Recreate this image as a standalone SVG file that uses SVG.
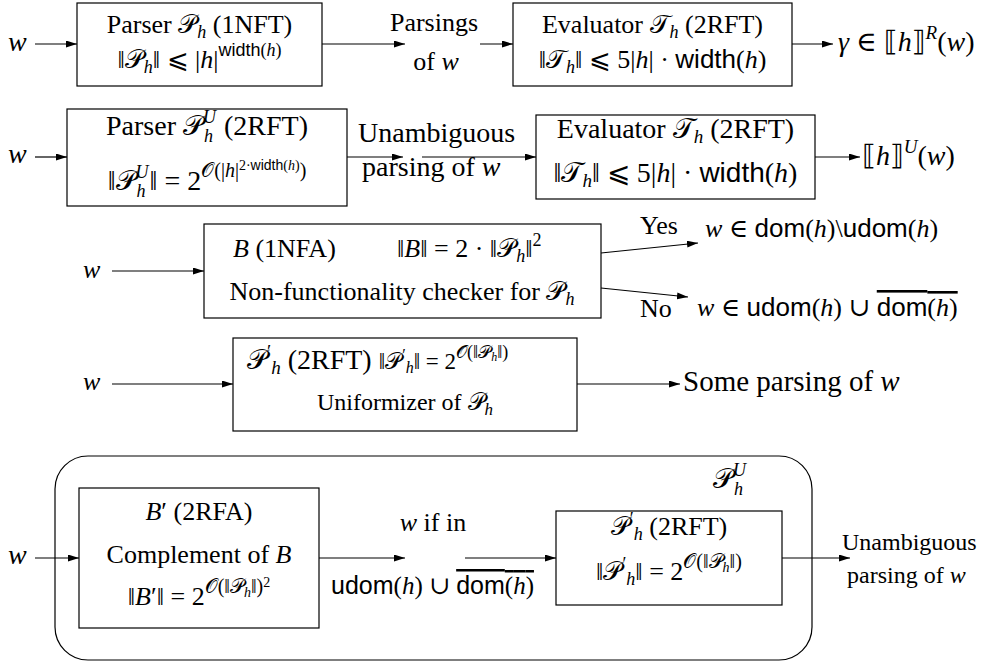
<svg xmlns="http://www.w3.org/2000/svg" width="984" height="666" viewBox="0 0 984 666">
<style>
text{font-family:"Liberation Serif","DejaVu Serif",serif;font-size:26px;fill:#000}
.f28{font-size:28px}
.f24{font-size:24px}
.f25{font-size:25px}
.f29{font-size:29px}
.i{font-style:italic}
.c{font-family:"DejaVu Sans","Noto Sans",sans-serif;font-style:normal}
.sf{font-family:"Liberation Sans","DejaVu Sans",sans-serif;font-style:normal}
.box{fill:#fff;stroke:#000;stroke-width:1.2}
.e{stroke:#000;stroke-width:1.2;fill:none;marker-end:url(#a)}
</style>
<defs><marker id="a" markerUnits="userSpaceOnUse" markerWidth="12" markerHeight="8" refX="11" refY="3.5" orient="auto"><path d="M0,0 L11,3.5 L0,7 Z" fill="#000"/></marker></defs>

<g id="uniform-container">
<rect x="55" y="456" width="757" height="204" rx="33" ry="33" fill="none" stroke="#000" stroke-width="1.2"/>
<text x="713" y="488" class="f28"><tspan class="c">𝒫</tspan><tspan class="i" font-size="18" dy="-12">U</tspan><tspan class="i" font-size="18" dx="-12" dy="19">h</tspan></text>
</g>

<g id="connectors">
<line class="e" x1="35" y1="44" x2="77" y2="44"/>
<line class="e" x1="322" y1="44" x2="405" y2="44"/>
<line class="e" x1="480" y1="44" x2="513" y2="44"/>
<line class="e" x1="792" y1="44" x2="833" y2="44"/>
<line class="e" x1="35" y1="157" x2="67" y2="157"/>
<line class="e" x1="347" y1="157" x2="403" y2="157"/>
<line class="e" x1="422" y1="157" x2="536" y2="157"/>
<line class="e" x1="815" y1="157" x2="860" y2="157"/>
<line class="e" x1="112" y1="271" x2="204" y2="271"/>
<line class="e" x1="601" y1="253" x2="698" y2="243"/>
<line class="e" x1="601" y1="288" x2="688" y2="297"/>
<line class="e" x1="112" y1="384" x2="233" y2="384"/>
<line class="e" x1="577" y1="384" x2="680" y2="384"/>
<line class="e" x1="35" y1="558" x2="79" y2="558"/>
<line class="e" x1="319" y1="558" x2="405" y2="558"/>
<line class="e" x1="465" y1="558" x2="556" y2="558"/>
<line class="e" x1="782" y1="558" x2="850" y2="558"/>
</g>

<!-- Row 1 -->
<g id="w1"><text x="8" y="51" class="i f28">w</text></g>
<g id="parser1">
<rect class="box" x="77" y="3" width="245" height="83"/>
<text x="199.5" y="33" text-anchor="middle">Parser <tspan class="c">𝒫</tspan><tspan class="i" font-size="18" dy="5">h</tspan><tspan dy="-5"> (1NFT)</tspan></text>
<text x="199.5" y="68" text-anchor="middle">‖<tspan class="c">𝒫</tspan><tspan class="i" font-size="18" dy="5">h</tspan><tspan dy="-5">‖ ⩽ |</tspan><tspan class="i">h</tspan>|<tspan class="sf" font-size="18" dy="-12">width</tspan><tspan font-size="18">(</tspan><tspan class="i" font-size="18">h</tspan><tspan font-size="18">)</tspan></text>
</g>
<g id="parsings1">
<text x="434" y="31" text-anchor="middle">Parsings</text>
<text x="436" y="70" text-anchor="middle">of <tspan class="i">w</tspan></text>
</g>
<g id="evaluator1">
<rect class="box" x="513" y="3" width="279" height="83"/>
<text x="652.5" y="33" text-anchor="middle">Evaluator <tspan class="c">𝒯</tspan><tspan class="i" font-size="18" dy="5">h</tspan><tspan dy="-5"> (2RFT)</tspan></text>
<text x="652.5" y="68" text-anchor="middle">‖<tspan class="c">𝒯</tspan><tspan class="i" font-size="18" dy="5">h</tspan><tspan dy="-5">‖ ⩽ 5|</tspan><tspan class="i">h</tspan>| · <tspan class="sf">width</tspan>(<tspan class="i">h</tspan>)</text>
</g>
<g id="out1"><text x="838" y="51" class="f28"><tspan class="i">γ</tspan> ∈ <tspan class="c">⟦</tspan><tspan class="i">h</tspan><tspan class="c">⟧</tspan><tspan class="i" font-size="19" dy="-12">R</tspan><tspan dy="12">(</tspan><tspan class="i">w</tspan>)</text></g>

<!-- Row 2 -->
<g id="w2"><text x="8" y="163" class="i f28">w</text></g>
<g id="parser2">
<rect class="box" x="67" y="109" width="280" height="97"/>
<text x="207" y="135" text-anchor="middle" class="f28">Parser <tspan class="c">𝒫</tspan><tspan class="i" font-size="18" dy="-12">U</tspan><tspan class="i" font-size="18" dx="-12" dy="19">h</tspan><tspan dx="4" dy="-7"> (2RFT)</tspan></text>
<text x="207" y="190" text-anchor="middle" class="f28">‖<tspan class="c">𝒫</tspan><tspan class="i" font-size="18" dy="-12">U</tspan><tspan class="i" font-size="18" dx="-12" dy="19">h</tspan><tspan dx="4" dy="-7">‖ = 2</tspan><tspan class="c" font-size="20" dy="-13">𝒪</tspan><tspan font-size="20">(|</tspan><tspan class="i" font-size="20">h</tspan><tspan font-size="20">|</tspan><tspan font-size="14" dy="-7">2·</tspan><tspan class="sf" font-size="14">width</tspan><tspan font-size="14">(</tspan><tspan class="i" font-size="14">h</tspan><tspan font-size="14">)</tspan><tspan font-size="20" dy="7">)</tspan></text>
</g>
<g id="unamb2">
<text x="358" y="142" class="f28">Unambiguous</text>
<text x="362" y="176" class="f28">parsing of <tspan class="i">w</tspan></text>
</g>
<g id="evaluator2">
<rect class="box" x="536" y="115" width="279" height="84"/>
<text x="675.5" y="138" text-anchor="middle" class="f28">Evaluator <tspan class="c">𝒯</tspan><tspan class="i" font-size="19" dy="5">h</tspan><tspan dy="-5"> (2RFT)</tspan></text>
<text x="675.5" y="182" text-anchor="middle" class="f28">‖<tspan class="c">𝒯</tspan><tspan class="i" font-size="19" dy="5">h</tspan><tspan dy="-5">‖ ⩽ 5|</tspan><tspan class="i">h</tspan>| · <tspan class="sf">width</tspan>(<tspan class="i">h</tspan>)</text>
</g>
<g id="out2"><text x="862" y="165" class="f28"><tspan class="c">⟦</tspan><tspan class="i">h</tspan><tspan class="c">⟧</tspan><tspan class="i" font-size="19" dy="-12">U</tspan><tspan dy="12">(</tspan><tspan class="i">w</tspan>)</text></g>

<!-- Row 3 -->
<g id="w3"><text x="83" y="278" class="i">w</text></g>
<g id="checker">
<rect class="box" x="204" y="224" width="397" height="94"/>
<text x="233" y="257"><tspan class="i">B</tspan> (1NFA)</text>
<text x="397" y="257">‖<tspan class="i">B</tspan>‖ = 2 · ‖<tspan class="c">𝒫</tspan><tspan class="i" font-size="18" dy="5">h</tspan><tspan dy="-5">‖</tspan><tspan font-size="18" dy="-11">2</tspan></text>
<text x="402" y="300" text-anchor="middle">Non-functionality checker for <tspan class="c">𝒫</tspan><tspan class="i" font-size="18" dy="5">h</tspan></text>
</g>
<g id="yes">
<text x="640" y="234">Yes</text>
<text x="705" y="237"><tspan class="i">w</tspan> ∈ <tspan class="sf">dom</tspan>(<tspan class="i">h</tspan>)\<tspan class="sf">udom</tspan>(<tspan class="i">h</tspan>)</text>
</g>
<g id="no">
<text x="640" y="317">No</text>
<text x="697" y="316"><tspan class="i">w</tspan> ∈ <tspan class="sf">udom</tspan>(<tspan class="i">h</tspan>) ∪ <tspan class="sf" text-decoration="overline">dom</tspan><tspan text-decoration="overline">(</tspan><tspan class="i" text-decoration="overline">h</tspan><tspan text-decoration="overline">)</tspan></text>
</g>

<!-- Row 4 -->
<g id="w4"><text x="83" y="390" class="i">w</text></g>
<g id="uniformizer">
<rect class="box" x="233" y="338" width="344" height="93"/>
<text x="247" y="369" class="f28"><tspan class="c">𝒫</tspan><tspan font-size="19" dy="-11">′</tspan><tspan class="i" font-size="19" dy="16">h</tspan><tspan dy="-5"> (2RFT) </tspan><tspan font-size="23">‖</tspan><tspan class="c" font-size="23">𝒫</tspan><tspan font-size="16" dy="-9">′</tspan><tspan class="i" font-size="16" dy="13">h</tspan><tspan font-size="23" dy="-4">‖ = 2</tspan><tspan class="c" font-size="18" dy="-11">𝒪</tspan><tspan font-size="18">(‖</tspan><tspan class="c" font-size="18">𝒫</tspan><tspan class="i" font-size="12" dy="3">h</tspan><tspan font-size="18" dy="-3">‖)</tspan></text>
<text x="405" y="410" text-anchor="middle" class="f24">Uniformizer of <tspan class="c">𝒫</tspan><tspan class="i" font-size="17" dy="5">h</tspan></text>
</g>
<g id="some"><text x="683" y="391" class="f29">Some parsing of <tspan class="i">w</tspan></text></g>

<!-- Row 5 -->
<g id="w5"><text x="8" y="564" class="i f28">w</text></g>
<g id="complement">
<rect class="box" x="79" y="488" width="240" height="140"/>
<text x="199" y="520" text-anchor="middle"><tspan class="i">B</tspan>′ (2RFA)</text>
<text x="199" y="563" text-anchor="middle">Complement of <tspan class="i">B</tspan></text>
<text x="199" y="605" text-anchor="middle">‖<tspan class="i">B</tspan>′‖ = 2<tspan class="c" font-size="20" dy="-12">𝒪</tspan><tspan font-size="20">(‖</tspan><tspan class="c" font-size="20">𝒫</tspan><tspan class="i" font-size="14" dy="4">h</tspan><tspan font-size="20" dy="-4">‖)</tspan><tspan font-size="14" dy="-6">2</tspan></text>
</g>
<g id="ifin">
<text x="433" y="531" text-anchor="middle"><tspan class="i">w</tspan> if in</text>
<text x="331" y="594" class="f25"><tspan class="sf">udom</tspan>(<tspan class="i">h</tspan>) ∪ <tspan class="sf" text-decoration="overline">dom</tspan><tspan text-decoration="overline">(</tspan><tspan class="i" text-decoration="overline">h</tspan><tspan text-decoration="overline">)</tspan></text>
</g>
<g id="uniformizer2">
<rect class="box" x="556" y="511" width="226" height="94"/>
<text x="669" y="535" text-anchor="middle"><tspan class="c">𝒫</tspan><tspan font-size="18" dy="-10">′</tspan><tspan class="i" font-size="18" dy="15">h</tspan><tspan dy="-5"> (2RFT)</tspan></text>
<text x="669" y="580" text-anchor="middle">‖<tspan class="c">𝒫</tspan><tspan font-size="18" dy="-10">′</tspan><tspan class="i" font-size="18" dy="15">h</tspan><tspan dy="-5">‖ = 2</tspan><tspan class="c" font-size="20" dy="-12">𝒪</tspan><tspan font-size="20">(‖</tspan><tspan class="c" font-size="20">𝒫</tspan><tspan class="i" font-size="14" dy="4">h</tspan><tspan font-size="20" dy="-4">‖)</tspan></text>
</g>
<g id="out5">
<text x="842" y="550" class="f24">Unambiguous</text>
<text x="847" y="583" class="f24">parsing of <tspan class="i">w</tspan></text>
</g>
</svg>
